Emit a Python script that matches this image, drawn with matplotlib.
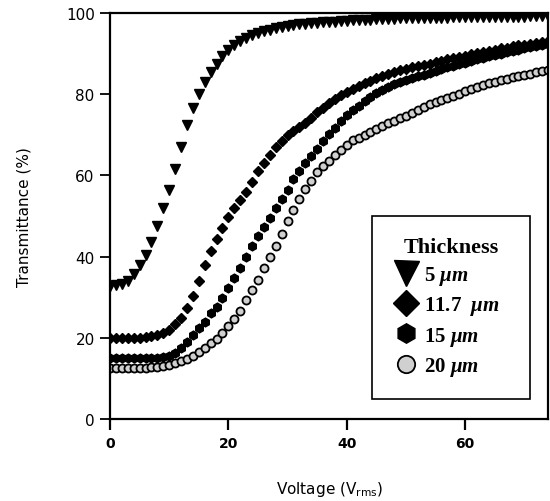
import numpy as np
import matplotlib.pyplot as plt

plt.rcParams['mathtext.fontset'] = 'custom'
plt.rcParams['mathtext.it'] = 'Liberation Serif:italic:bold'
plt.rcParams['mathtext.rm'] = 'DejaVu Sans'

# Напруга, В (крок 1 В)
voltage = np.arange(0, 75)

# Пропускання, %
t_5um = [32.8, 33.0, 33.3, 34.0, 35.8, 38.0, 40.5, 43.5, 47.5, 52.0,
         56.5, 61.5, 67.0, 72.5, 76.5, 80.0, 83.0, 85.5, 87.5, 89.3,
         90.8, 92.0, 93.0, 93.8, 94.5, 95.0, 95.5, 95.9, 96.2, 96.5,
         96.8, 97.0, 97.2, 97.4, 97.5, 97.6, 97.7, 97.8, 97.9, 98.0,
         98.1, 98.2, 98.3, 98.35, 98.4, 98.45, 98.5, 98.55, 98.6, 98.65,
         98.7, 98.72, 98.75, 98.78, 98.8, 98.82, 98.85, 98.88, 98.9, 98.92,
         98.95, 98.97, 99.0, 99.0, 99.02, 99.05, 99.05, 99.08, 99.1, 99.1,
         99.12, 99.15, 99.15, 99.18, 99.2]

t_11um = [20.0, 20.0, 20.0, 20.0, 20.0, 20.0, 20.2, 20.4, 20.7, 21.2,
          22.0, 23.3, 25.0, 27.3, 30.3, 34.0, 38.0, 41.5, 44.3, 47.0,
          49.8, 52.0, 54.0, 56.0, 58.5, 61.0, 63.0, 65.0, 67.0, 68.5,
          70.0, 71.0, 72.0, 73.0, 74.2, 75.5, 76.7, 77.8, 78.8, 79.7,
          80.5, 81.3, 82.0, 82.7, 83.3, 84.0, 84.5, 85.0, 85.5, 85.9,
          86.2, 86.6, 86.9, 87.2, 87.5, 87.9, 88.2, 88.6, 88.9, 89.2,
          89.5, 89.8, 90.1, 90.4, 90.7, 91.0, 91.3, 91.5, 91.8, 92.0,
          92.2, 92.4, 92.6, 92.8, 93.0]

t_15um = [15.0, 15.0, 15.0, 15.0, 15.0, 15.0, 15.0, 15.0, 15.0, 15.2,
          15.6, 16.3, 17.5, 19.0, 20.7, 22.5, 24.0, 26.0, 27.7, 29.7,
          32.3, 34.8, 37.2, 40.0, 42.5, 45.0, 47.3, 49.5, 52.0, 54.2,
          56.3, 59.0, 61.0, 63.0, 64.8, 66.5, 68.5, 70.3, 71.8, 73.3,
          74.8, 76.0, 77.2, 78.3, 79.3, 80.2, 81.0, 81.8, 82.5, 83.0,
          83.4, 83.9, 84.4, 84.8, 85.2, 85.7, 86.1, 86.6, 87.0, 87.4,
          87.8, 88.2, 88.6, 89.0, 89.3, 89.7, 90.0, 90.4, 90.7, 91.0,
          91.3, 91.6, 91.9, 92.2, 92.4]

t_20um = [12.6, 12.6, 12.6, 12.6, 12.6, 12.6, 12.6, 12.7, 12.8, 13.0,
          13.3, 13.7, 14.2, 14.8, 15.5, 16.4, 17.6, 18.7, 19.7, 21.1,
          22.8, 24.6, 26.5, 29.3, 31.7, 34.2, 37.3, 40.0, 42.5, 45.6,
          48.8, 51.5, 54.2, 56.6, 58.7, 60.8, 62.2, 63.6, 65.0, 66.2,
          67.4, 68.6, 69.3, 70.0, 70.7, 71.4, 72.1, 72.8, 73.5, 74.1,
          74.7, 75.4, 76.1, 76.8, 77.5, 78.0, 78.5, 79.0, 79.6, 80.1,
          80.7, 81.2, 81.7, 82.2, 82.7, 83.0, 83.4, 83.8, 84.2, 84.5,
          84.8, 85.1, 85.4, 85.7, 86.0]

labels = ['5 $\\mathit{\\mu m}$', '11.7  $\\mathit{\\mu m}$',
          '15 $\\mathit{\\mu m}$', '20 $\\mathit{\\mu m}$']

fig = plt.figure(figsize=(5.5, 5.02), dpi=100)
ax = fig.add_axes([0.2, 0.1633, 0.7964, 0.8088])

ax.plot(voltage, t_5um, 'v', color='black', ms=6.5, label=labels[0])
ax.plot(voltage, t_11um, 'D', color='black', ms=5.2, label=labels[1])
ax.plot(voltage, t_15um, 'h', color='black', ms=6.3, label=labels[2])
ax.plot(voltage, t_20um, 'o', mfc='#d0d0d0', mec='black', mew=1.3, ms=5.8,
        label=labels[3])

ax.set_xlim(0, 74)
ax.set_ylim(0, 100)
ax.set_xticks([0, 20, 40, 60])
ax.set_yticks([0, 20, 40, 60, 80, 100])

for s in ax.spines.values():
    s.set_linewidth(1.6)

ax.tick_params(axis='x', direction='out', length=8, width=1.6, pad=4)
ax.tick_params(axis='y', direction='out', length=7, width=1.3, pad=4,
               labelsize=11)
for t in ax.get_xticklabels():
    t.set_fontweight('bold')
    t.set_fontsize(10)

ax.set_ylabel('Transmittance (%)', fontsize=11, labelpad=25)
ax.set_xlabel('Voltage (V$_{\\mathrm{rms}}$)', fontsize=11, labelpad=21)

leg = ax.legend(title='Thickness', loc='upper left',
                bbox_to_anchor=(0.598, 0.5, 0.361, 0.0), mode='expand',
                prop={'family': 'Liberation Serif', 'weight': 'bold',
                      'size': 15},
                title_fontproperties={'family': 'Liberation Serif',
                                      'weight': 'bold', 'size': 16},
                handletextpad=0.2, handlelength=1.3,
                labelspacing=0.35, borderpad=1.0, borderaxespad=0,
                fancybox=False, edgecolor='black', framealpha=1)
leg.get_frame().set_linewidth(1.2)
for h, ms in zip(leg.legend_handles, [18, 13, 14, 12.5]):
    h.set_markersize(ms)

plt.savefig('out.png', dpi=100)
